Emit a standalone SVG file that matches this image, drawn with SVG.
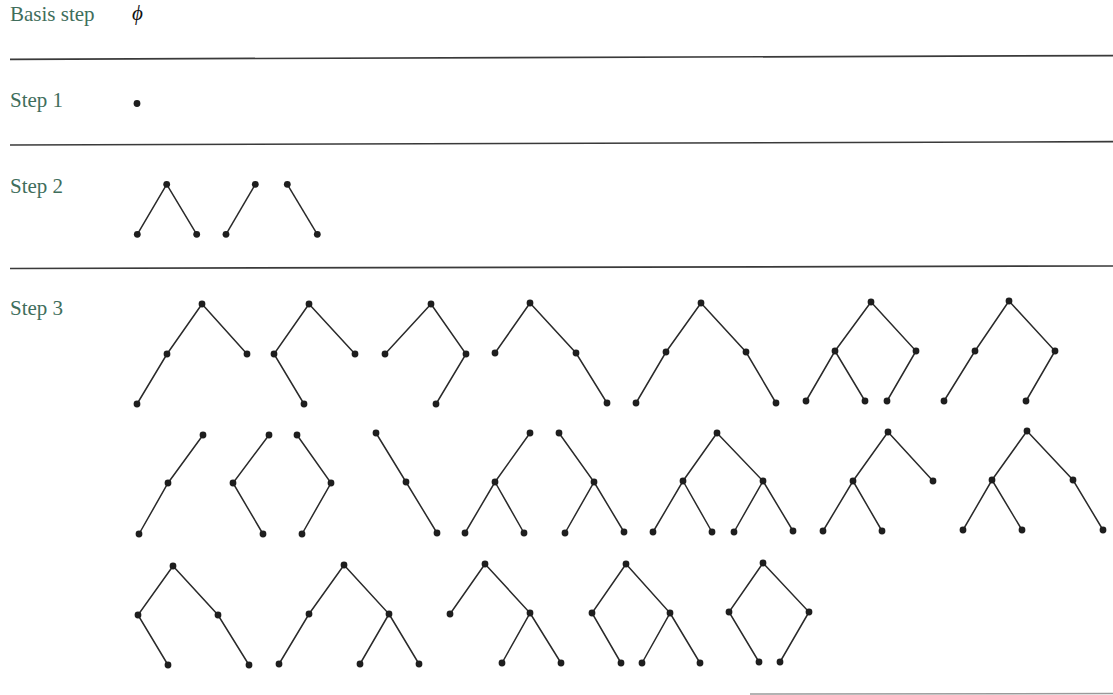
<svg xmlns="http://www.w3.org/2000/svg" width="1113" height="695" viewBox="0 0 1113 695">
<style>
.lbl{font-family:"Liberation Serif","Times New Roman",serif;font-size:21px;fill:#3f6e5c}
.phi{font-family:"Liberation Serif","Times New Roman",serif;font-size:21px;font-style:italic;fill:#111}
.rule{stroke:#3a3a3a;stroke-width:1.7;fill:none}
.e{stroke:#2a2a2a;stroke-width:1.5;fill:none}
.d{fill:#1e1e1e}
</style>
<defs>
<circle id="dot" r="3.4" class="d"/>
</defs>
<rect width="1113" height="695" fill="#ffffff"/>
<g id="rules">
<line class="rule" x1="10" y1="59.3" x2="1113" y2="55.6"/>
<line class="rule" x1="10" y1="145" x2="1113" y2="141.7"/>
<line class="rule" x1="10" y1="268.5" x2="1113" y2="266"/>
<line x1="750" y1="694" x2="1113" y2="693.5" stroke="#9a9a9a" stroke-width="1.5"/>
</g>
<g id="labels">
<text class="lbl" x="10" y="21">Basis step</text>
<text class="phi" x="132" y="20">ϕ</text>
<text class="lbl" x="10" y="107">Step 1</text>
<text class="lbl" x="10" y="193">Step 2</text>
<text class="lbl" x="10" y="315">Step 3</text>
</g>
<g id="connectors">
<path class="e" d="M166.7,184.3L137.3,234.3M166.7,184.3L196.7,234.3"/>
<path class="e" d="M255.3,184.3L226,234.3"/>
<path class="e" d="M287.3,184.3L317.3,234.3"/>
<path class="e" d="M202,304L167,354L137,404M202,304L247,354"/>
<path class="e" d="M309,304L274,354L304,404M309,304L355,354"/>
<path class="e" d="M431,304L385,354M431,304L466,354L436,404"/>
<path class="e" d="M530,303L495,353M530,303L576,353L607,403"/>
<path class="e" d="M701,303L666,352L636,403M701,303L746,352L776,403"/>
<path class="e" d="M871,302L835,351L806,401M835,351L865,401M871,302L916,351L887,401"/>
<path class="e" d="M1009,301L975,351L944,401M1009,301L1055,351L1026,401"/>
<path class="e" d="M203,435L168,483L139,534"/>
<path class="e" d="M269,435L233,483L263,534"/>
<path class="e" d="M297,435L331,483L302,534"/>
<path class="e" d="M376,433L406,482L437,533"/>
<path class="e" d="M530,433L495,482L465,533M495,482L524,533"/>
<path class="e" d="M559,433L594,482L565,533M594,482L624,532"/>
<path class="e" d="M717,433L683,481L653,532M683,481L712,532M717,433L763,481L734,532M763,481L793,531"/>
<path class="e" d="M888,432L853,481L823,531M853,481L882,531M888,432L933,481"/>
<path class="e" d="M1027,431L992,480L963,530M992,480L1022,530M1027,431L1073,480L1103,530"/>
<path class="e" d="M173,566L138,615L168,665M173,566L218,615L249,665"/>
<path class="e" d="M344,565L309,614L279,664M344,565L389,614L360,664M389,614L419,664"/>
<path class="e" d="M485,564L450,614M485,564L530,613L502,663M530,613L561,663"/>
<path class="e" d="M626,564L592,613L621,663M626,564L670,613L642,663M670,613L700,663"/>
<path class="e" d="M763,563L729,612L759,662M763,563L809,612L780,662"/>
</g>
<g id="step1-tree"><use href="#dot" x="137" y="103.5"/></g>
<g id="s2-t1"><use href="#dot" x="166.7" y="184.3"/><use href="#dot" x="137.3" y="234.3"/><use href="#dot" x="196.7" y="234.3"/></g>
<g id="s2-t2"><use href="#dot" x="255.3" y="184.3"/><use href="#dot" x="226" y="234.3"/></g>
<g id="s2-t3"><use href="#dot" x="287.3" y="184.3"/><use href="#dot" x="317.3" y="234.3"/></g>
<g id="s3-t1"><use href="#dot" x="202" y="304"/><use href="#dot" x="167" y="354"/><use href="#dot" x="247" y="354"/><use href="#dot" x="137" y="404"/></g>
<g id="s3-t2"><use href="#dot" x="309" y="304"/><use href="#dot" x="274" y="354"/><use href="#dot" x="355" y="354"/><use href="#dot" x="304" y="404"/></g>
<g id="s3-t3"><use href="#dot" x="431" y="304"/><use href="#dot" x="385" y="354"/><use href="#dot" x="466" y="354"/><use href="#dot" x="436" y="404"/></g>
<g id="s3-t4"><use href="#dot" x="530" y="303"/><use href="#dot" x="495" y="353"/><use href="#dot" x="576" y="353"/><use href="#dot" x="607" y="403"/></g>
<g id="s3-t5"><use href="#dot" x="701" y="303"/><use href="#dot" x="666" y="352"/><use href="#dot" x="746" y="352"/><use href="#dot" x="636" y="403"/><use href="#dot" x="776" y="403"/></g>
<g id="s3-t6"><use href="#dot" x="871" y="302"/><use href="#dot" x="835" y="351"/><use href="#dot" x="916" y="351"/><use href="#dot" x="806" y="401"/><use href="#dot" x="865" y="401"/><use href="#dot" x="887" y="401"/></g>
<g id="s3-t7"><use href="#dot" x="1009" y="301"/><use href="#dot" x="975" y="351"/><use href="#dot" x="1055" y="351"/><use href="#dot" x="944" y="401"/><use href="#dot" x="1026" y="401"/></g>
<g id="s3-t8"><use href="#dot" x="203" y="435"/><use href="#dot" x="168" y="483"/><use href="#dot" x="139" y="534"/></g>
<g id="s3-t9"><use href="#dot" x="269" y="435"/><use href="#dot" x="233" y="483"/><use href="#dot" x="263" y="534"/></g>
<g id="s3-t10"><use href="#dot" x="297" y="435"/><use href="#dot" x="331" y="483"/><use href="#dot" x="302" y="534"/></g>
<g id="s3-t11"><use href="#dot" x="376" y="433"/><use href="#dot" x="406" y="482"/><use href="#dot" x="437" y="533"/></g>
<g id="s3-t12"><use href="#dot" x="530" y="433"/><use href="#dot" x="495" y="482"/><use href="#dot" x="465" y="533"/><use href="#dot" x="524" y="533"/></g>
<g id="s3-t13"><use href="#dot" x="559" y="433"/><use href="#dot" x="594" y="482"/><use href="#dot" x="565" y="533"/><use href="#dot" x="624" y="532"/></g>
<g id="s3-t14"><use href="#dot" x="717" y="433"/><use href="#dot" x="683" y="481"/><use href="#dot" x="763" y="481"/><use href="#dot" x="653" y="532"/><use href="#dot" x="712" y="532"/><use href="#dot" x="734" y="532"/><use href="#dot" x="793" y="531"/></g>
<g id="s3-t15"><use href="#dot" x="888" y="432"/><use href="#dot" x="853" y="481"/><use href="#dot" x="933" y="481"/><use href="#dot" x="823" y="531"/><use href="#dot" x="882" y="531"/></g>
<g id="s3-t16"><use href="#dot" x="1027" y="431"/><use href="#dot" x="992" y="480"/><use href="#dot" x="1073" y="480"/><use href="#dot" x="963" y="530"/><use href="#dot" x="1022" y="530"/><use href="#dot" x="1103" y="530"/></g>
<g id="s3-t17"><use href="#dot" x="173" y="566"/><use href="#dot" x="138" y="615"/><use href="#dot" x="218" y="615"/><use href="#dot" x="168" y="665"/><use href="#dot" x="249" y="665"/></g>
<g id="s3-t18"><use href="#dot" x="344" y="565"/><use href="#dot" x="309" y="614"/><use href="#dot" x="389" y="614"/><use href="#dot" x="279" y="664"/><use href="#dot" x="360" y="664"/><use href="#dot" x="419" y="664"/></g>
<g id="s3-t19"><use href="#dot" x="485" y="564"/><use href="#dot" x="450" y="614"/><use href="#dot" x="530" y="613"/><use href="#dot" x="502" y="663"/><use href="#dot" x="561" y="663"/></g>
<g id="s3-t20"><use href="#dot" x="626" y="564"/><use href="#dot" x="592" y="613"/><use href="#dot" x="670" y="613"/><use href="#dot" x="621" y="663"/><use href="#dot" x="642" y="663"/><use href="#dot" x="700" y="663"/></g>
<g id="s3-t21"><use href="#dot" x="763" y="563"/><use href="#dot" x="729" y="612"/><use href="#dot" x="809" y="612"/><use href="#dot" x="759" y="662"/><use href="#dot" x="780" y="662"/></g>
</svg>
